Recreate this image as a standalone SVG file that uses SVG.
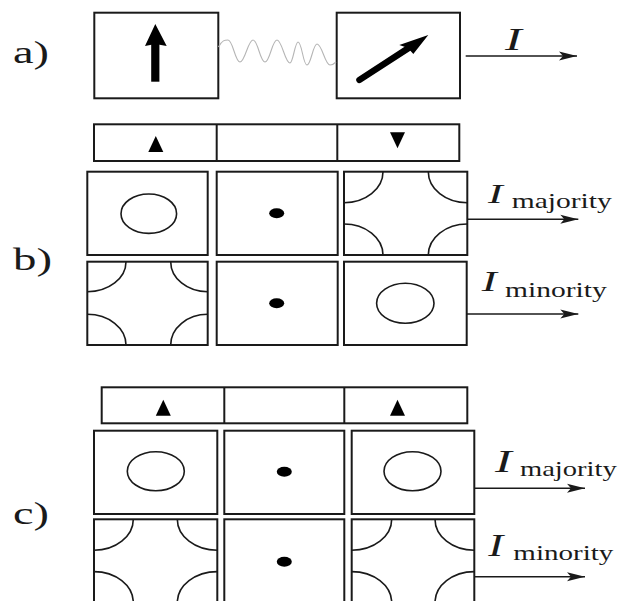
<svg xmlns="http://www.w3.org/2000/svg" width="621" height="601" viewBox="0 0 621 601">
<style>
.box{fill:#fff;stroke:#1a1a1a;stroke-width:2}
.div{stroke:#1a1a1a;stroke-width:2;fill:none}
.arc{fill:none;stroke:#1a1a1a;stroke-width:1.6}
.dot{fill:#000}
.lbl{font-family:"Liberation Serif","Times New Roman",serif;fill:#1a1a1a}
.it{font-family:"Liberation Serif","Times New Roman",serif;font-style:italic;fill:#1a1a1a}
.sub{font-family:"Liberation Serif","Times New Roman",serif;fill:#1a1a1a;font-size:22px}
.cur{stroke:#1a1a1a;stroke-width:1.6;fill:none}
.wave{stroke:#b5b5b5;stroke-width:1.1;fill:none}
</style>
<defs>
<marker id="ah" markerUnits="userSpaceOnUse" markerWidth="22" markerHeight="12" refX="19" refY="5" orient="auto">
<path d="M19,5 L1,0.5 L5,5 L1,9.5 Z" fill="#1a1a1a"/>
</marker>
<path id="tri" d="M0,-8 L7.5,8 L-7.5,8 Z" fill="#000"/>
</defs>

<text class="lbl" x="13" y="63" font-size="32" textLength="36" lengthAdjust="spacingAndGlyphs">a)</text>
<text class="lbl" x="13" y="270" font-size="32" textLength="39" lengthAdjust="spacingAndGlyphs">b)</text>
<text class="lbl" x="13" y="523.5" font-size="32" textLength="36" lengthAdjust="spacingAndGlyphs">c)</text>

<!-- a) -->
<g id="a-spin">
<rect class="box" x="94.3" y="12.7" width="124" height="85.6"/>
<rect x="151.2" y="44" width="8.2" height="37.7" fill="#000"/>
<path d="M155.3,24 L166.7,46 L155.3,44 L145,46 Z" fill="#000"/>
</g>
<g id="a-magnet">
<rect class="box" x="336.7" y="12.7" width="123.3" height="85.6"/>
<line x1="359.5" y1="79.9" x2="409" y2="47.7" stroke="#000" stroke-width="6.5" stroke-linecap="round"/>
<path d="M428.3,35 L413.3,54 L408,48 L399.3,45 Z" fill="#000"/>
</g>

<!-- b) -->
<g id="b-bar">
<rect class="box" x="94" y="124.3" width="365.3" height="36.7"/>
<line class="div" x1="216.7" y1="124.3" x2="216.7" y2="161"/>
<line class="div" x1="337.3" y1="124.3" x2="337.3" y2="161"/>
<use href="#tri" x="155.8" y="144"/>
<use href="#tri" transform="translate(397.5 140.3) scale(1 -1)"/>
</g>
<g id="b-r1c1">
<rect class="box" x="87.3" y="171.7" width="120.4" height="83.3"/>
<ellipse class="arc" cx="148.8" cy="213.7" rx="27.8" ry="19.7"/>
</g>
<g id="b-r1c2">
<rect class="box" x="216.7" y="171.7" width="121" height="83.3"/>
<ellipse class="dot" cx="276.7" cy="213.3" rx="7.5" ry="5"/>
</g>
<g id="b-r1c3">
<rect class="box" x="344" y="171.7" width="123.3" height="83.3"/>
<path class="arc" d="M383,171.7 A39 31 0 0 1 344,202.7 M467.3,202.7 A39 31 0 0 1 428.3,171.7 M344,224 A39 31 0 0 1 383,255 M428.3,255 A39 31 0 0 1 467.3,224"/>
</g>
<g id="b-r2c1">
<rect class="box" x="87.3" y="261.7" width="120.4" height="83.3"/>
<path class="arc" d="M126,261.7 A38.7 30 0 0 1 87.3,291.7 M207.7,291.7 A37 30 0 0 1 170.7,261.7 M87.3,314.3 A38.7 30.7 0 0 1 126,345 M170.7,345 A37 30.7 0 0 1 207.7,314.3"/>
</g>
<g id="b-r2c2">
<rect class="box" x="216.7" y="261.7" width="121" height="83.3"/>
<ellipse class="dot" cx="276.7" cy="303.3" rx="7.5" ry="5"/>
</g>
<g id="b-r2c3">
<rect class="box" x="344" y="261.7" width="122.7" height="83.3"/>
<ellipse class="arc" cx="405.3" cy="303.3" rx="28.7" ry="20"/>
</g>

<!-- c) -->
<g id="c-bar">
<rect class="box" x="101.7" y="387.3" width="365.6" height="36"/>
<line class="div" x1="224.3" y1="387.3" x2="224.3" y2="423.3"/>
<line class="div" x1="344.3" y1="387.3" x2="344.3" y2="423.3"/>
<use href="#tri" x="163.3" y="407.8"/>
<use href="#tri" x="397.5" y="407.8"/>
</g>
<g id="c-r1c1">
<rect class="box" x="94" y="430.7" width="123.3" height="83.3"/>
<ellipse class="arc" cx="155.8" cy="471.2" rx="28.5" ry="19.5"/>
</g>
<g id="c-r1c2">
<rect class="box" x="224.3" y="430.7" width="120" height="83.3"/>
<ellipse class="dot" cx="284.3" cy="471.7" rx="7.5" ry="5"/>
</g>
<g id="c-r1c3">
<rect class="box" x="351.7" y="430.7" width="122.6" height="83.3"/>
<ellipse class="arc" cx="412.5" cy="471.2" rx="28.5" ry="19.5"/>
</g>
<g id="c-r2c1">
<rect class="box" x="94" y="519.3" width="123.3" height="83.3"/>
<path class="arc" d="M133.3,519.3 A39.3 31 0 0 1 94,550.3 M217.3,550.3 A40 31 0 0 1 177.3,519.3 M94,571.6 A39.3 31 0 0 1 133.3,602.6 M177.3,602.6 A40 31 0 0 1 217.3,571.6"/>
</g>
<g id="c-r2c2">
<rect class="box" x="224.3" y="519.3" width="120" height="83.3"/>
<ellipse class="dot" cx="284.3" cy="561.7" rx="7.5" ry="5"/>
</g>
<g id="c-r2c3">
<rect class="box" x="351.7" y="519.3" width="122.6" height="83.3"/>
<path class="arc" d="M391.7,519.3 A40 31 0 0 1 351.7,550.3 M474.3,550.3 A39.3 31 0 0 1 435,519.3 M351.7,571.6 A40 31 0 0 1 391.7,602.6 M435,602.6 A39.3 31 0 0 1 474.3,571.6"/>
</g>

<!-- connectors -->
<g id="connectors">
<path class="wave" d="M218.5,47 C222,40 225,40 228,40 C233,40 235,62 240,62 C245,62 248,40 253,40 C258,40 260,62 265,62 C270,62 272,40 277,40 C282,40 285,63 290,63 C293,63 295,42 298,42 C302,42 303,65 307,65 C311,65 313,44 317,44 C322,44 325,65 330,65 C332,65 334,64 336,62"/>
<line class="cur" x1="465.7" y1="56" x2="577" y2="56" marker-end="url(#ah)"/>
<line class="cur" x1="467.3" y1="219.3" x2="578.3" y2="219.3" marker-end="url(#ah)"/>
<line class="cur" x1="466.7" y1="314" x2="578.3" y2="314" marker-end="url(#ah)"/>
<line class="cur" x1="474.3" y1="488.3" x2="585" y2="488.3" marker-end="url(#ah)"/>
<line class="cur" x1="474.3" y1="576.7" x2="585" y2="576.7" marker-end="url(#ah)"/>
</g>

<!-- current labels -->
<text class="it" x="505" y="50" font-size="32" textLength="16.7" lengthAdjust="spacingAndGlyphs">I</text>
<text class="it" x="488" y="203" font-size="28" textLength="14.7" lengthAdjust="spacingAndGlyphs">I</text>
<text class="sub" x="511.7" y="208.3" textLength="100" lengthAdjust="spacingAndGlyphs">majority</text>
<text class="it" x="481.7" y="291" font-size="29" textLength="15" lengthAdjust="spacingAndGlyphs">I</text>
<text class="sub" x="505" y="296.7" textLength="101.7" lengthAdjust="spacingAndGlyphs">minority</text>
<text class="it" x="495" y="472" font-size="32" textLength="16.7" lengthAdjust="spacingAndGlyphs">I</text>
<text class="sub" x="520" y="476.3" textLength="96.7" lengthAdjust="spacingAndGlyphs">majority</text>
<text class="it" x="488.3" y="556" font-size="31" textLength="15" lengthAdjust="spacingAndGlyphs">I</text>
<text class="sub" x="513.3" y="560.3" textLength="100" lengthAdjust="spacingAndGlyphs">minority</text>
</svg>
